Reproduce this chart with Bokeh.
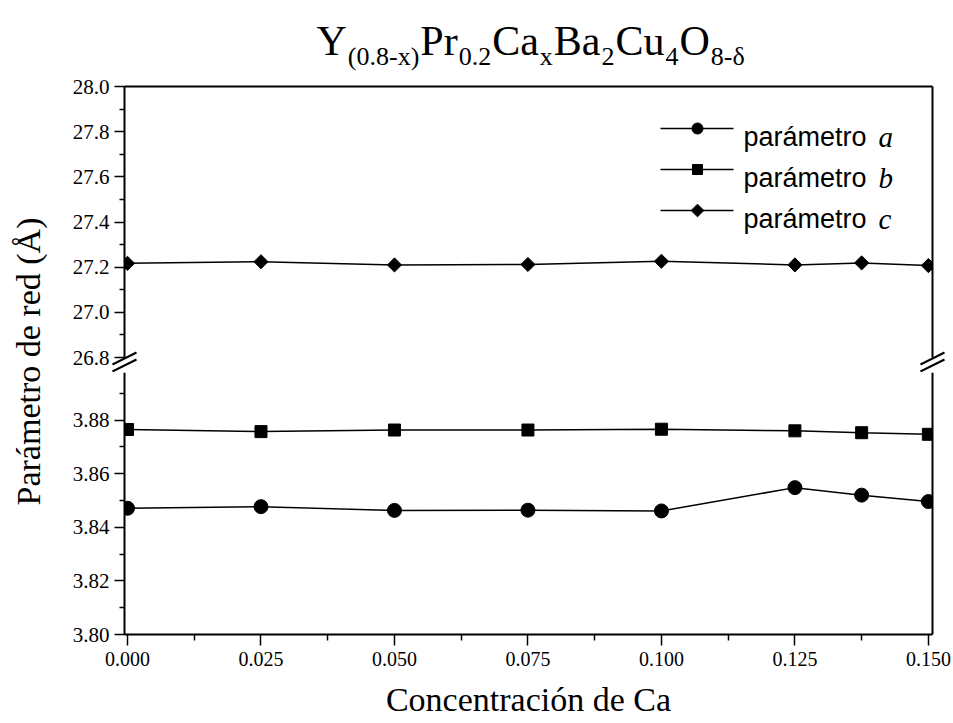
import numpy as np
from bokeh.plotting import figure
from bokeh.layouts import column, row
from bokeh.models import Range1d, LinearAxis, FixedTicker, PrintfTickFormatter
from bokeh.core.properties import value
from bokeh.embed import file_html
from bokeh.resources import INLINE

# ---- data -------------------------------------------------------------
ca = [0.000, 0.025, 0.050, 0.075, 0.100, 0.125, 0.1375, 0.150]
param_a = [3.8471, 3.8477, 3.8463, 3.8464, 3.8461, 3.8548, 3.8520, 3.8496]
param_b = [3.8765, 3.8757, 3.8763, 3.8763, 3.8766, 3.8760, 3.8753, 3.8747]
param_c = [27.217, 27.224, 27.210, 27.212, 27.226, 27.210, 27.219, 27.207]

x_ticks = [0.000, 0.025, 0.050, 0.075, 0.100, 0.125, 0.150]
upper_ticks = [26.8, 27.0, 27.2, 27.4, 27.6, 27.8, 28.0]
lower_ticks = [3.80, 3.82, 3.84, 3.86, 3.88]

series_names = ["parámetro ", "parámetro ", "parámetro "]
series_letters = ["a", "b", "c"]

title_parts = [("Y", False), ("(0.8-x)", True), ("Pr", False), ("0.2", True),
               ("Ca", False), ("x", True), ("Ba", False), ("2", True),
               ("Cu", False), ("4", True), ("O", False), ("8-δ", True)]

# ---- page geometry (pixels) ---------------------------------------------
W, H = 953, 723
TITLE_H = 72
LABEL_W = 60
AX_L, AX_R = 124, 932          # vertical axes
UP_TOP, UP_BOT = 86, 357       # upper box (26.8 .. 28.0)
LO_TOP, LO_BOT = 372, 634      # lower box (3.80 .. top)

SERIF = "Liberation Serif"
SANS = "Liberation Sans"

X0, X1 = -0.00056, 0.15077
DX = (X1 - X0) / (AX_R - AX_L)
XS, XE = X0 - (AX_L - LABEL_W) * DX, X1 + (W - AX_R) * DX
UP_Y0, UP_Y1 = 26.8, 28.0
DY_UP = (UP_Y1 - UP_Y0) / (UP_BOT - UP_TOP)
LO_Y0 = 3.80
DY_LO = 0.02 / 53.6
LO_Y1 = LO_Y0 + (LO_BOT - LO_TOP) * DY_LO

# advance widths (em) of the serif face, used to chain the formula pieces
ADV = {"Y": .722, "(": .333, ")": .333, "0": .5, ".": .25, "8": .5, "-": .333,
       "x": .5, "P": .556, "r": .333, "2": .5, "C": .667, "a": .444, "B": .667,
       "u": .5, "4": .5, "O": .722, "δ": .5}


def ux(px):
    return X0 + (px - AX_L) * DX


def uy(py):
    return UP_Y1 - (py - UP_TOP) * DY_UP


def ly(py):
    return LO_Y0 + (LO_BOT - py) * DY_LO


def midpoints(t):
    return [(a + b) / 2 for a, b in zip(t[:-1], t[1:])]


def bare(p):
    p.outline_line_color = None
    p.background_fill_color = "white"
    p.border_fill_color = "white"
    p.grid.visible = False
    return p


def style_axis(ax, size="21px"):
    ax.axis_line_width = 2
    ax.axis_line_color = "black"
    ax.major_tick_line_width = 1.5
    ax.minor_tick_line_width = 1.5
    ax.major_tick_line_color = "black"
    ax.minor_tick_line_color = "black"
    ax.major_tick_out = 10
    ax.major_tick_in = 0
    ax.minor_tick_out = 5
    ax.minor_tick_in = 0
    ax.major_label_text_font = SERIF
    ax.major_label_text_font_size = size
    ax.major_label_text_color = "black"


def plain_axis(**kw):
    return LinearAxis(ticker=FixedTicker(ticks=[]), axis_line_width=2,
                      axis_line_color="black", major_tick_out=0, major_tick_in=0,
                      minor_tick_out=0, minor_tick_in=0,
                      major_label_text_font_size="0px", **kw)


def side_masks(p, y0, y1):
    # white margins outside the axes so the edge markers end at the axis lines
    p.quad(left=[XS, X1], right=[X0, XE], bottom=[y0, y0], top=[y1, y1],
           fill_color="white", line_color=None)


def panel(height, y0, y1):
    return bare(figure(width=W - LABEL_W, height=height, x_range=Range1d(XS, XE),
                       y_range=Range1d(y0, y1), x_axis_type=None, y_axis_type=None,
                       toolbar_location=None, output_backend="svg", min_border=0))


# ---- title -------------------------------------------------------------
title_fig = bare(figure(width=W, height=TITLE_H, x_range=Range1d(0, W), y_range=Range1d(0, TITLE_H),
                        x_axis_type=None, y_axis_type=None, toolbar_location=None,
                        output_backend="svg", min_border=0))
MAIN_SIZE, SUB_SIZE = 42, 26
cursor = 316.0
for txt, sub in title_parts:
    size = SUB_SIZE if sub else MAIN_SIZE
    title_fig.text(x=[cursor], y=[TITLE_H - (56 if sub else 40)], text=[txt],
                   text_font=value(SERIF), text_font_size=f"{size}px", text_color="black",
                   text_align="left", text_baseline="alphabetic")
    cursor += sum(ADV[ch] for ch in txt) * size + 1

# ---- y axis title ---------------------------------------------------------
label_fig = bare(figure(width=LABEL_W, height=H - TITLE_H, x_range=Range1d(0, LABEL_W),
                        y_range=Range1d(0, H - TITLE_H), x_axis_type=None, y_axis_type=None,
                        toolbar_location=None, output_backend="svg", min_border=0))
label_fig.text(x=[28], y=[H - 361], text=["Parámetro de red (Å)"], angle=np.pi / 2,
               text_font=value(SERIF), text_font_size="34px", text_color="black",
               text_align="center", text_baseline="middle")

# ---- upper panel (parameter c) -------------------------------------------
upper = panel(LO_TOP - TITLE_H, uy(LO_TOP), uy(TITLE_H))
up_axis = LinearAxis(ticker=FixedTicker(ticks=upper_ticks, minor_ticks=midpoints(upper_ticks)),
                     formatter=PrintfTickFormatter(format="%.1f"),
                     fixed_location=X0, bounds=(UP_Y0, UP_Y1))
style_axis(up_axis)
upper.add_layout(up_axis, "left")
upper.add_layout(plain_axis(fixed_location=X1, bounds=(UP_Y0, UP_Y1)), "right")
upper.add_layout(plain_axis(fixed_location=UP_Y1, bounds=(X0, X1)), "above")

upper.line(ca, param_c, line_color="black", line_width=1.5)
upper.scatter(ca, param_c, marker="square", angle=np.pi / 4, size=10,
              fill_color="black", line_color="black")
side_masks(upper, UP_Y0, UP_Y1)

# legend keys and texts
legend_rows = [128, 169, 210]
legend_markers = [("circle", 11, 0.0), ("square", 10, 0.0), ("square", 9, np.pi / 4)]
for ry, (mk, sz, ang), name, letter in zip(legend_rows, legend_markers, series_names, series_letters):
    upper.line([ux(660), ux(733)], [uy(ry), uy(ry)], line_color="black", line_width=1.5)
    upper.scatter([ux(697)], [uy(ry)], marker=mk, size=sz, angle=ang,
                  fill_color="black", line_color="black")
    upper.text(x=[ux(743)], y=[uy(ry + 8)], text=[name], text_font=value(SANS),
               text_font_size="27px", text_color="black", text_baseline="alphabetic")
    upper.text(x=[ux(878)], y=[uy(ry + 8)], text=[letter], text_font=value(SERIF),
               text_font_style="italic", text_font_size="29px", text_color="black",
               text_baseline="alphabetic")

# axis-break marks: two short slanted strokes across each vertical axis
bx0, bx1, by0, by1 = [], [], [], []
for ax_px in (AX_L, AX_R):
    for cy in (358, 365):
        bx0.append(ux(ax_px - 12))
        bx1.append(ux(ax_px + 12))
        by0.append(uy(cy + 6))
        by1.append(uy(cy - 6))
upper.segment(x0=bx0, y0=by0, x1=bx1, y1=by1, line_color="black", line_width=2)

# ---- lower panel (parameters a and b) -------------------------------------
lower = panel(H - LO_TOP, ly(H), LO_Y1)
lower.x_range = upper.x_range
lo_axis = LinearAxis(ticker=FixedTicker(ticks=lower_ticks, minor_ticks=midpoints(lower_ticks + [3.90])),
                     formatter=PrintfTickFormatter(format="%.2f"),
                     fixed_location=X0, bounds=(LO_Y0, LO_Y1))
style_axis(lo_axis)
lower.add_layout(lo_axis, "left")
lower.add_layout(plain_axis(fixed_location=X1, bounds=(LO_Y0, LO_Y1)), "right")

xa = LinearAxis(ticker=FixedTicker(ticks=x_ticks, minor_ticks=midpoints(x_ticks)),
                formatter=PrintfTickFormatter(format="%.3f"),
                fixed_location=LO_Y0, bounds=(X0, X1))
style_axis(xa, size="20px")
xa.major_tick_out = 11
xa.minor_tick_out = 6
xa.major_label_standoff = 6
xa.axis_label = "Concentración de Ca"
xa.axis_label_text_font = SERIF
xa.axis_label_text_font_size = "34px"
xa.axis_label_text_font_style = "normal"
xa.axis_label_text_color = "black"
xa.axis_label_standoff = 12
lower.add_layout(xa, "below")

lower.line(ca, param_b, line_color="black", line_width=1.5)
lower.scatter(ca, param_b, marker="square", size=12, fill_color="black", line_color="black")
lower.line(ca, param_a, line_color="black", line_width=1.5)
lower.scatter(ca, param_a, marker="circle", size=14, fill_color="black", line_color="black")
side_masks(lower, LO_Y0, LO_Y1)

layout = column(title_fig, row(label_fig, column(upper, lower, spacing=0), spacing=0), spacing=0)

open("out.html", "w").write(file_html(layout, INLINE))
